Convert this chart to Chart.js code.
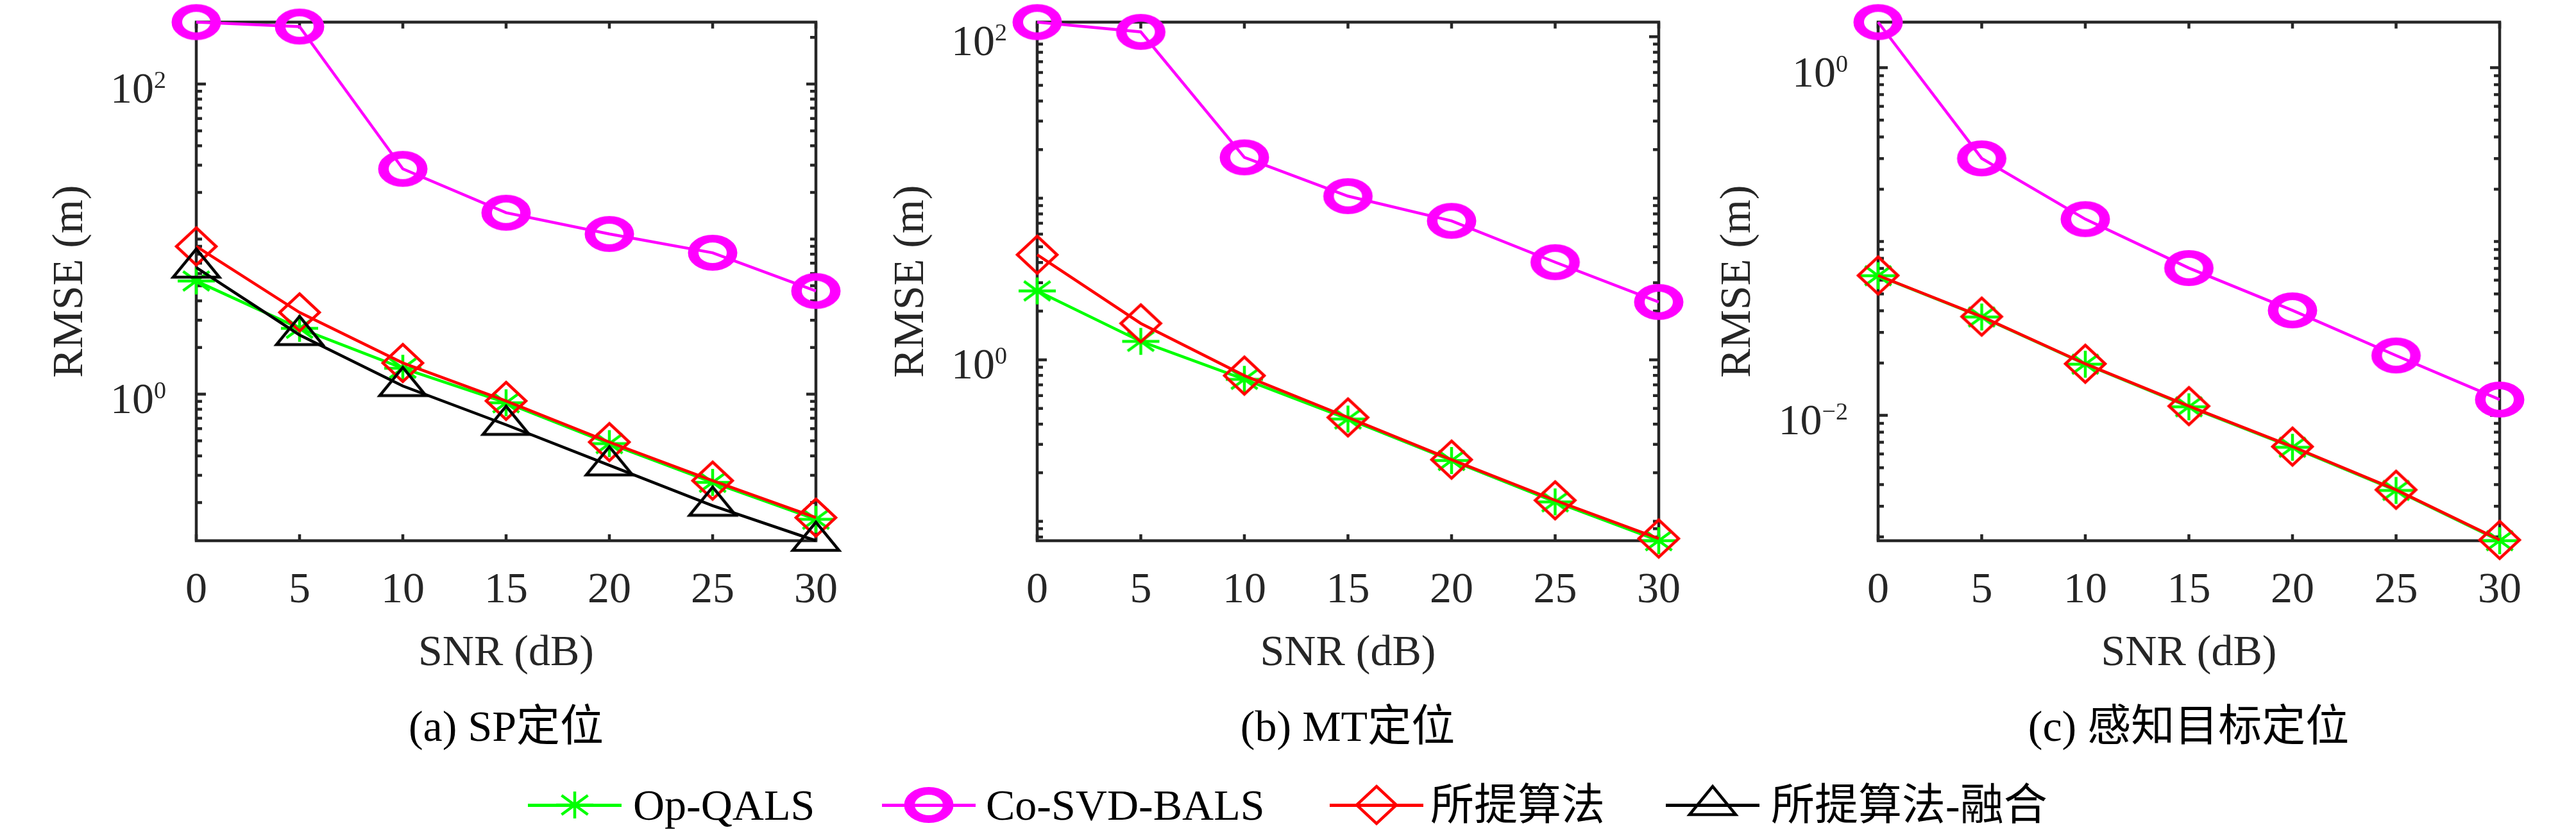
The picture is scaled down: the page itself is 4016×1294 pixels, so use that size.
<!DOCTYPE html>
<html>
<head>
<meta charset="utf-8">
<script src="https://cdn.jsdelivr.net/npm/chart.js@4.4.1/dist/chart.umd.min.js"></script>
<style>
body { margin: 0; background: #fff; }
#page { position: relative; width: 4016px; height: 1294px; overflow: hidden; background: #fff;
        font-family: "Liberation Serif", "Noto Sans CJK SC", serif; color: #000; }
#page canvas.plot { position: absolute; top: 0; }
.cap { position: absolute; font-size: 68px; line-height: 1; white-space: nowrap; transform: translateX(-50%); }
.lgline { position: absolute; height: 5px; }
.lgmark { position: absolute; }
.lgtext { position: absolute; font-size: 68px; line-height: 1; white-space: nowrap; }
</style>
</head>
<body>
<div id="page">
  <canvas class="plot" id="panelA" width="1330" height="1080" style="left:0px"></canvas>
  <canvas class="plot" id="panelB" width="1330" height="1080" style="left:1330px"></canvas>
  <canvas class="plot" id="panelC" width="1356" height="1080" style="left:2660px"></canvas>

  <div class="cap" style="left:789px;top:1098px">(a) SP定位</div>
  <div class="cap" style="left:2101px;top:1098px">(b) MT定位</div>
  <div class="cap" style="left:3412px;top:1098px">(c) 感知目标定位</div>

  <div id="legend"></div>
</div>

<script>
// x axis (dB)
var snr = [0, 5, 10, 15, 20, 25, 30];

// (a) SP
var opQalsA   = [5.37, 2.66, 1.47, 0.88, 0.48, 0.27, 0.156];
var coSvdA    = [251, 235, 28.4, 14.8, 10.8, 8.17, 4.63];
var proposedA = [8.98, 3.37, 1.59, 0.905, 0.491, 0.277, 0.160];
var fusionA   = [6.56, 2.41, 1.13, 0.635, 0.348, 0.191, 0.1135];

// (b) MT
var opQalsB   = [2.67, 1.30, 0.757, 0.430, 0.238, 0.132, 0.0759];
var coSvdB    = [123, 107, 17.9, 10.3, 7.24, 4.02, 2.28];
var proposedB = [4.47, 1.68, 0.798, 0.440, 0.241, 0.135, 0.0783];

// (c) sensing target
var opQalsC   = [0.0636, 0.0368, 0.0197, 0.0112, 0.00655, 0.00370, 0.00190];
var coSvdC    = [1.83, 0.301, 0.1346, 0.0704, 0.0402, 0.0221, 0.01233];
var proposedC = [0.0638, 0.0370, 0.0198, 0.0113, 0.00661, 0.00373, 0.00192];

// y limits (tight) and labelled decades
var rangeA = [0.1135, 251];
var rangeB = [0.0759, 123];
var rangeC = [0.0019, 1.83];
var decadesA = [0, 2];
var decadesB = [0, 2];
var decadesC = [-2, 0];

var seriesNames = ["Op-QALS", "Co-SVD-BALS", "所提算法", "所提算法-融合"];
var seriesColors = ["#00ff00", "#ff00ff", "#ff0000", "#000000"];
var seriesMarkers = ["star", "ring", "diamond", "triangle"];

var AXIS_COLOR = "#262626";
var MAIN_FONT = '68px "Liberation Serif"';
var SUP_FONT = '38px "Liberation Serif"';

function makeMarker(kind, color) {
    var c = document.createElement("canvas");
    c.width = 96;
    c.height = 96;
    var g = c.getContext("2d");
    g.translate(48, 48);
    g.strokeStyle = color;
    g.lineWidth = 4.5;
    g.beginPath();
    if (kind == "ring") {
        g.scale(1.375, 1);
        g.lineWidth = 12;
        g.arc(0, 0, 22, 0, Math.PI * 2);
    } else if (kind == "diamond") {
        g.moveTo(0, -29); g.lineTo(31, 0); g.lineTo(0, 29); g.lineTo(-31, 0); g.closePath();
    } else if (kind == "triangle") {
        g.lineJoin = "miter";
        g.moveTo(0, -29); g.lineTo(36, 15); g.lineTo(-36, 15); g.closePath();
    } else {
        g.moveTo(-29, 0); g.lineTo(29, 0);
        g.moveTo(0, -21); g.lineTo(0, 21);
        g.moveTo(-20.5, -15); g.lineTo(20.5, 15);
        g.moveTo(-20.5, 15); g.lineTo(20.5, -15);
    }
    g.stroke();
    return c;
}

function supText(e) {
    return e < 0 ? "\u2212" + (-e) : String(e);
}

// inward ticks, box, tick labels and axis titles
var axesFrame = {
    id: "axesFrame",
    beforeDatasetsDraw: function (chart, args, opts) {
        var ctx = chart.ctx, a = chart.chartArea, x = chart.scales.x, y = chart.scales.y;
        ctx.save();
        ctx.strokeStyle = AXIS_COLOR;
        ctx.lineWidth = 4.5;
        ctx.beginPath();
        for (var i = 0; i < snr.length; i++) {
            var px = x.getPixelForValue(snr[i]);
            ctx.moveTo(px, a.bottom); ctx.lineTo(px, a.bottom - 10);
            ctx.moveTo(px, a.top); ctx.lineTo(px, a.top + 10);
        }
        var e0 = Math.floor(Math.log10(y.min)), e1 = Math.ceil(Math.log10(y.max));
        for (var e = e0; e <= e1; e++) {
            for (var m = 1; m <= 9; m++) {
                var v = m * Math.pow(10, e);
                if (v < y.min * 0.999 || v > y.max * 1.001) continue;
                var py = y.getPixelForValue(v);
                var len = (m == 1 && opts.decades.indexOf(e) >= 0) ? 15 : 9;
                ctx.moveTo(a.left, py); ctx.lineTo(a.left + len, py);
                ctx.moveTo(a.right, py); ctx.lineTo(a.right - len, py);
            }
        }
        ctx.stroke();
        ctx.strokeRect(a.left, a.top, a.right - a.left, a.bottom - a.top);

        ctx.fillStyle = AXIS_COLOR;
        ctx.textBaseline = "alphabetic";
        ctx.font = MAIN_FONT;
        ctx.textAlign = "center";
        for (var i = 0; i < snr.length; i++) {
            ctx.fillText(String(snr[i]), x.getPixelForValue(snr[i]), a.bottom + 96);
        }
        ctx.fillText("SNR (dB)", (a.left + a.right) / 2, a.bottom + 194);

        var right = a.left - 47, widest = 0;
        ctx.textAlign = "left";
        for (var k = 0; k < opts.decades.length; k++) {
            var d = opts.decades[k];
            var ty = y.getPixelForValue(Math.pow(10, d));
            ctx.font = SUP_FONT;
            var ew = ctx.measureText(supText(d)).width;
            ctx.font = MAIN_FONT;
            var mw = ctx.measureText("10").width;
            widest = Math.max(widest, ew + mw);
            ctx.fillText("10", right - ew - mw, ty + 29);
            ctx.font = SUP_FONT;
            ctx.fillText(supText(d), right - ew, ty + 6);
        }

        ctx.font = MAIN_FONT;
        ctx.textAlign = "center";
        ctx.textBaseline = "middle";
        ctx.translate(right - widest - 62, (a.top + a.bottom) / 2);
        ctx.rotate(-Math.PI / 2);
        ctx.fillText("RMSE (m)", 0, 0);
        ctx.restore();
    }
};

function points(vals) {
    return snr.map(function (s, i) { return {x: s, y: vals[i]}; });
}

function createPanel(id, pad, lists, range, decades) {
    var datasets = [];
    for (var i = 0; i < lists.length; i++) {
        datasets.push({
            label: seriesNames[i],
            data: points(lists[i]),
            borderColor: seriesColors[i],
            backgroundColor: seriesColors[i],
            borderWidth: 4.5,
            tension: 0,
            pointStyle: makeMarker(seriesMarkers[i], seriesColors[i]),
            pointRadius: 30,
            clip: false,
            order: lists.length - i
        });
    }
    return new Chart(document.getElementById(id), {
        type: "line",
        data: {datasets: datasets},
        options: {
            responsive: false,
            devicePixelRatio: 1,
            animation: false,
            events: [],
            layout: {padding: pad},
            scales: {
                x: {type: "linear", min: 0, max: 30, bounds: "data", display: false},
                y: {type: "logarithmic", min: range[0], max: range[1], bounds: "data", display: false}
            },
            plugins: {
                legend: {display: false},
                tooltip: {enabled: false},
                axesFrame: {decades: decades}
            }
        },
        plugins: [axesFrame]
    });
}

createPanel("panelA", {left: 306, right: 58, top: 34, bottom: 237},
    [opQalsA, coSvdA, proposedA, fusionA], rangeA, decadesA);
createPanel("panelB", {left: 287, right: 74, top: 34, bottom: 237},
    [opQalsB, coSvdB, proposedB], rangeB, decadesB);
createPanel("panelC", {left: 268, right: 119, top: 34, bottom: 237},
    [opQalsC, coSvdC, proposedC], rangeC, decadesC);

// legend row
var legendLineX = [823, 1375, 2073, 2597];
var legendTextX = [987, 1537, 2230, 2761];
var legend = document.getElementById("legend");
for (var i = 0; i < seriesNames.length; i++) {
    var ln = document.createElement("div");
    ln.className = "lgline";
    ln.style.left = legendLineX[i] + "px";
    ln.style.width = "146px";
    ln.style.top = (1255 - 2.5) + "px";
    ln.style.background = seriesColors[i];
    legend.appendChild(ln);

    var mk = makeMarker(seriesMarkers[i], seriesColors[i]);
    mk.className = "lgmark";
    mk.style.left = (legendLineX[i] + 73 - 48) + "px";
    mk.style.top = (1255 - 48) + "px";
    legend.appendChild(mk);

    var tx = document.createElement("div");
    tx.className = "lgtext";
    tx.style.left = legendTextX[i] + "px";
    tx.style.top = "1221px";
    tx.textContent = seriesNames[i];
    legend.appendChild(tx);
}
</script>
</body>
</html>
